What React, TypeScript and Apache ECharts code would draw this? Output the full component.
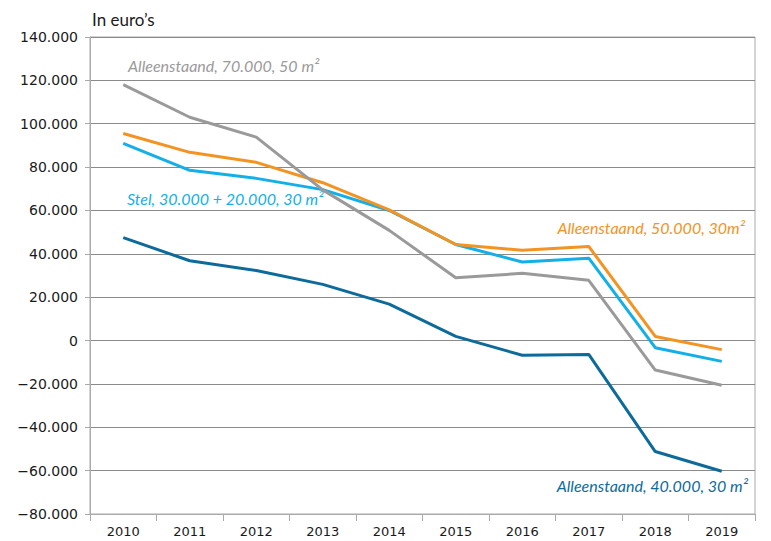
import React, { useEffect, useRef } from "react";
import * as echarts from "echarts";

const years = ["2010", "2011", "2012", "2013", "2014", "2015", "2016", "2017", "2018", "2019"];
const alleen70k50m = [118000, 103000, 93800, 69500, 50800, 29000, 31000, 27800, -13600, -20600];
const alleen50k30m = [95500, 86800, 82200, 72800, 60300, 44300, 41600, 43400, 1900, -4200];
const stel30k20k30m = [90900, 78500, 74800, 69600, 60000, 44300, 36200, 38000, -3300, -9600];
const alleen40k30m = [47500, 36800, 32300, 25900, 16800, 1900, -6800, -6400, -51200, -60300];

const seriesNames = [
  "Alleenstaand, 70.000, 50 m²",
  "Alleenstaand, 50.000, 30m²",
  "Stel, 30.000 + 20.000, 30 m²",
  "Alleenstaand, 40.000, 30 m²",
];
const colors = ["#9a9a9a", "#f39322", "#12afe8", "#0d6b9b"];

const fmt = (v: number) => {
  if (v === 0) return "0";
  const s = Math.abs(v).toString().replace(/\B(?=(\d{3})+(?!\d))/g, ".");
  return (v < 0 ? "\u2212" : "") + s;
};

export default function App() {
  const ref = useRef<HTMLDivElement>(null);
  useEffect(() => {
    if (!ref.current) return;
    const chart = echarts.init(ref.current, undefined, { renderer: "svg" });
    const data = [alleen70k50m, alleen50k30m, stel30k20k30m, alleen40k30m];
    const font = "Lato, 'Open Sans', sans-serif";
    const axisFont = "'DejaVu Sans', sans-serif";
    chart.setOption({
      animation: false,
      grid: {
        left: 90,
        right: 16,
        top: 37,
        bottom: 27,
        containLabel: false,
        show: true,
        borderColor: "#aaaaaa",
        borderWidth: 1,
      },
      xAxis: {
        type: "category",
        data: years,
        boundaryGap: true,
        axisLine: { show: true, onZero: false, lineStyle: { color: "#aaaaaa", width: 1 } },
        axisTick: { show: true, length: 7, lineStyle: { color: "#aaaaaa" } },
        axisLabel: { color: "#1a1a1a", fontSize: 13, fontFamily: axisFont, margin: 11 },
        splitLine: { show: false },
      },
      yAxis: {
        type: "value",
        min: -80000,
        max: 140000,
        interval: 20000,
        axisLine: { show: true, lineStyle: { color: "#aaaaaa", width: 1 } },
        axisTick: { show: true, length: 5, lineStyle: { color: "#aaaaaa" } },
        axisLabel: {
          color: "#1a1a1a",
          fontSize: 14,
          fontFamily: axisFont,
          margin: 12,
          formatter: (v: number) => fmt(v),
        },
        splitLine: { show: true, lineStyle: { color: "#8a8a8a", width: 1 } },
      },
      series: data.map((d, i) => ({
        name: seriesNames[i],
        type: "line",
        data: d,
        symbol: "none",
        lineStyle: { color: colors[i], width: 3 },
        itemStyle: { color: colors[i] },
        z: 10 - i,
      })),
      graphic: [
        {
          type: "text",
          left: 92,
          top: 11,
          style: { text: "In euro’s", fill: "#1a1a1a", font: `17px ${font}` },
        },
        {
          type: "text",
          left: 128,
          top: 57,
          style: { text: seriesNames[0], fill: colors[0], font: `italic 16px ${font}` },
        },
        {
          type: "text",
          left: 127,
          top: 190,
          style: { text: seriesNames[2], fill: colors[2], font: `italic 16px ${font}` },
        },
        {
          type: "text",
          right: 26,
          top: 219,
          style: { text: seriesNames[1], fill: colors[1], font: `italic 16px ${font}` },
        },
        {
          type: "text",
          right: 23,
          top: 477,
          style: { text: seriesNames[3], fill: colors[3], font: `italic 16px ${font}` },
        },
      ],
    });
    return () => chart.dispose();
  }, []);
  return (
    <div
      ref={ref}
      style={{ position: "absolute", left: 0, top: 0, width: 771, height: 541 }}
    />
  );
}
